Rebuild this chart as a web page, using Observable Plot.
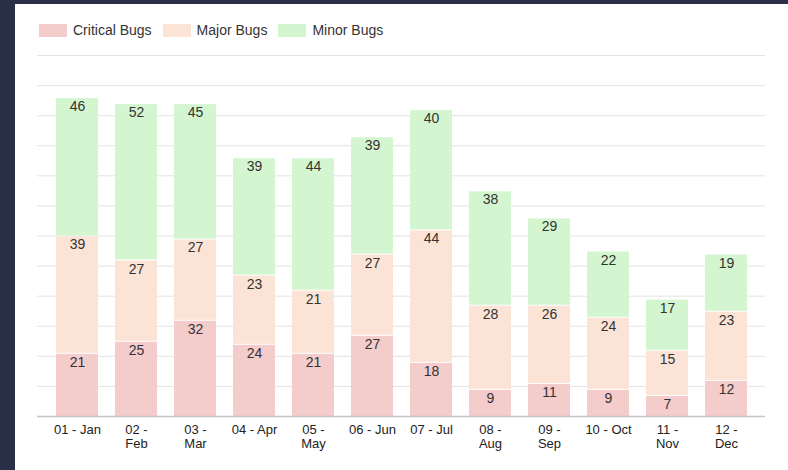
<!DOCTYPE html>
<html>
<head>
<meta charset="utf-8">
<script src="https://cdn.jsdelivr.net/npm/d3@7"></script>
<script src="https://cdn.jsdelivr.net/npm/@observablehq/plot@0.6"></script>
<style>
  html, body { margin: 0; padding: 0; }
  body { width: 788px; height: 470px; background: #293047; position: relative; overflow: hidden; font-family: "Liberation Sans", Arial, sans-serif; }
  #panel { position: absolute; left: 15px; top: 4px; width: 773px; height: 466px; background: #ffffff; }
  #legend { position: absolute; left: 24px; top: 18px; display: flex; align-items: center; font-size: 14px; color: #333; white-space: nowrap; }
  #legend .item { display: flex; align-items: center; margin-right: 11px; }
  #legend .sw { width: 28px; height: 13px; margin-right: 6px; }
  #chart { position: absolute; left: 0; top: 36px; }
</style>
</head>
<body>
<div id="panel">
  <div id="legend"></div>
  <div id="chart"></div>
</div>
<script>
const categories = ["01 - Jan","02 - Feb","03 - Mar","04 - Apr","05 - May","06 - Jun","07 - Jul","08 - Aug","09 - Sep","10 - Oct","11 - Nov","12 - Dec"];
const tickLabels = ["01 - Jan","02 -\nFeb","03 -\nMar","04 - Apr","05 -\nMay","06 - Jun","07 - Jul","08 -\nAug","09 -\nSep","10 - Oct","11 -\nNov","12 -\nDec"];
const seriesNames = ["Critical Bugs","Major Bugs","Minor Bugs"];
const critical = [21,25,32,24,21,27,18,9,11,9,7,12];
const major = [39,27,27,23,21,27,44,28,26,24,15,23];
const minor = [46,52,45,39,44,39,40,38,29,22,17,19];
const colors = ["#f4cccc","#fbe3d6","#d3f6d0"];
const yTicks = [0,10,20,30,40,50,60,70,80,90,100,110,120];

const seriesValues = [critical, major, minor];
const rows = [];
seriesNames.forEach((s, si) => {
  categories.forEach((m, i) => rows.push({month: m, series: s, value: seriesValues[si][i]}));
});
const labelOf = Object.fromEntries(categories.map((c, i) => [c, tickLabels[i]]));

const legend = document.getElementById("legend");
seriesNames.forEach((s, i) => {
  const it = document.createElement("div");
  it.className = "item";
  const sw = document.createElement("div");
  sw.className = "sw";
  sw.style.background = colors[i];
  const t = document.createElement("span");
  t.textContent = s;
  it.appendChild(sw); it.appendChild(t);
  legend.appendChild(it);
});

const chart = Plot.plot({
  width: 772,
  height: 430,
  marginTop: 15,
  marginBottom: 54,
  marginLeft: 22,
  marginRight: 22,
  style: {fontFamily: "'Liberation Sans', Arial, sans-serif", background: "transparent"},
  x: {domain: categories, padding: 0.29, label: null},
  y: {domain: [0, 120], axis: null},
  color: {domain: seriesNames, range: colors},
  marks: [
    Plot.ruleY(yTicks, {stroke: "#e3e3e3", strokeWidth: 1}),
    Plot.barY(rows, {x: "month", y: "value", fill: "series", order: seriesNames, insetTop: 1}),
    Plot.ruleY([0], {stroke: "#c4c4c4", strokeWidth: 1.5}),
    Plot.text(rows, Plot.stackY2({x: "month", y: "value", z: "series", order: seriesNames, text: "value", dy: 9, lineAnchor: "middle", fill: "#333", fontSize: 14})),
    Plot.axisX({tickSize: 0, tickPadding: 7, fontSize: 13, fill: "#222", lineHeight: 1.12, tickFormat: d => labelOf[d], label: null})
  ]
});
document.getElementById("chart").appendChild(chart);
</script>
</body>
</html>
